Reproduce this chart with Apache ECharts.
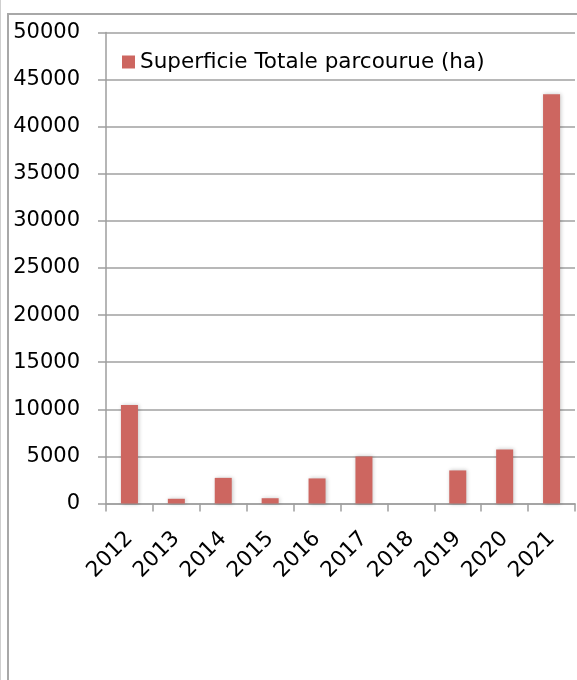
<!DOCTYPE html>
<html>
<head>
<meta charset="utf-8">
<script src="https://cdn.jsdelivr.net/npm/echarts@6/dist/echarts.min.js"></script>
<style>
html,body{margin:0;padding:0;background:#fff;}
#c{width:577px;height:680px;}
</style>
</head>
<body>
<div id="c"></div>
<script>
const categories = ['2012','2013','2014','2015','2016','2017','2018','2019','2020','2021'];
const seriesName = 'Superficie Totale parcourue (ha)';
const values = [10450, 500, 2720, 560, 2660, 4990, 0, 3510, 5745, 43440];
const yTicks = { min: 0, max: 50000, interval: 5000 };

const chart = echarts.init(document.getElementById('c'), null, {renderer: 'canvas'});
const FONT = 'DejaVu Sans';
chart.setOption({
  animation: false,
  backgroundColor: '#fff',
  graphic: [
    { type: 'line', shape: {x1: 0.5, y1: 0, x2: 0.5, y2: 680}, style: {stroke: '#cfcfcf', lineWidth: 1}, z: 100 },
    { type: 'rect', shape: {x: 8, y: 14, width: 700, height: 800}, style: {fill: 'none', stroke: '#a8a8a8', lineWidth: 2}, z: 100 }
  ],
  grid: { left: 106, right: 2, top: 32.5, bottom: 176.5, containLabel: false },
  legend: {
    data: [seriesName],
    left: 117, top: 46,
    icon: 'rect', itemWidth: 13, itemHeight: 13, itemGap: 5,
    textStyle: { fontFamily: FONT, fontSize: 21.5, color: '#000' }
  },
  xAxis: {
    type: 'category',
    data: categories,
    axisLine: { lineStyle: { color: '#9e9e9e', width: 1.5 } },
    axisTick: { show: true, length: 8, lineStyle: { color: '#9e9e9e', width: 1.5 } },
    axisLabel: { rotate: 45, margin: 32, fontFamily: FONT, fontSize: 21.5, color: '#000', interval: 0 }
  },
  yAxis: {
    type: 'value',
    min: yTicks.min, max: yTicks.max, interval: yTicks.interval,
    axisLine: { show: true, lineStyle: { color: '#9e9e9e', width: 1.5 } },
    axisTick: { show: true, length: 8, lineStyle: { color: '#9e9e9e', width: 1.5 } },
    splitLine: { show: true, lineStyle: { color: '#a0a0a0', width: 1.5 } },
    axisLabel: { margin: 26, fontFamily: FONT, fontSize: 21, color: '#000', formatter: v => String(v) }
  },
  series: [{
    name: seriesName,
    type: 'bar',
    data: values,
    barWidth: 17,
    itemStyle: {
      color: '#cd6660',
      shadowColor: 'rgba(0,0,0,0.22)', shadowBlur: 4, shadowOffsetX: 1, shadowOffsetY: 0
    }
  }]
});
</script>
</body>
</html>
